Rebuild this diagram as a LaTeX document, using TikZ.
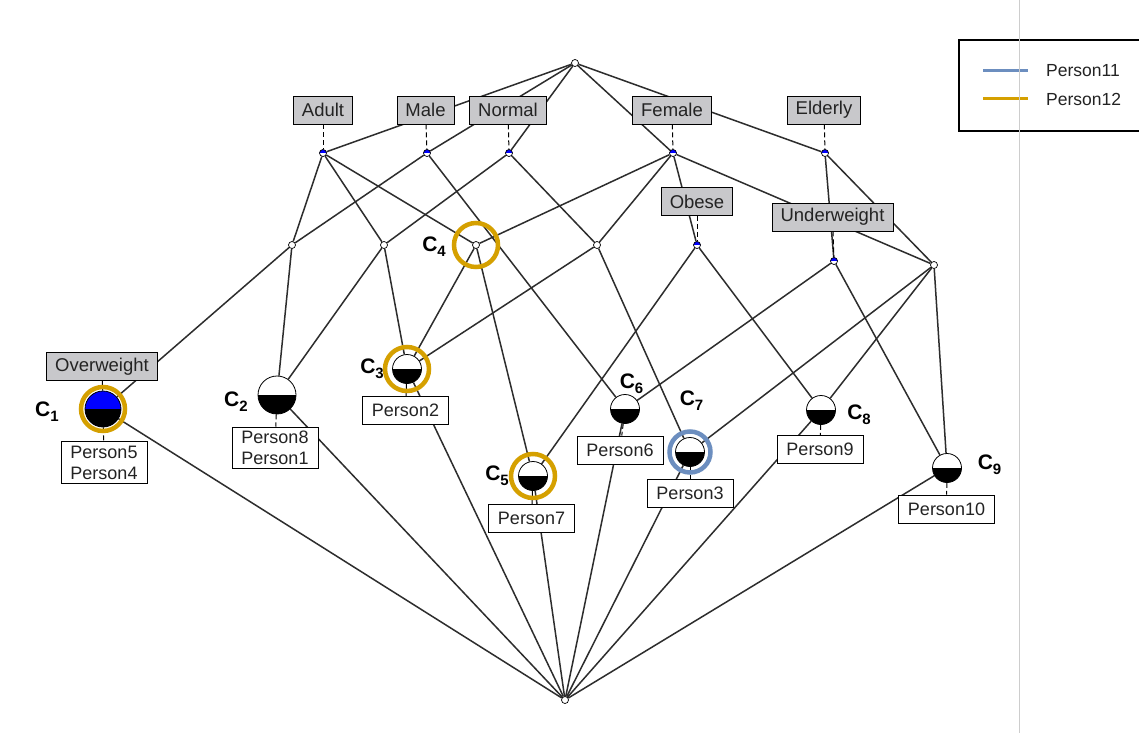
\documentclass[tikz,border=0pt]{standalone}
\usepackage{fontspec}
\setmainfont{Liberation Sans}
\pgfdeclarelayer{canvas}
\pgfdeclarelayer{edges}
\pgfsetlayers{canvas,edges,main}
\definecolor{ringorange}{RGB}{213,160,0}
\definecolor{ringblue}{RGB}{108,142,191}
\definecolor{lblgray}{RGB}{200,200,203}
\definecolor{edgegray}{RGB}{45,45,45}
\definecolor{txtgray}{RGB}{35,35,35}
\definecolor{sepgray}{RGB}{205,205,205}
\newcommand\csub[1]{\raisebox{-5pt}{\fontsize{15}{15}\selectfont #1}}
\tikzset{
  tiny/.style={circle,draw=black,fill=white,line width=0.7pt,minimum size=7pt,inner sep=0pt},
  attrdot/.style={tiny,fill=blue,path picture={\fill[white] (path picture bounding box.west) rectangle (path picture bounding box.south east);}},
  concept/.style={circle,draw=black,line width=0.8pt,fill=white,minimum size=#1,inner sep=0pt,
    path picture={\fill[black] (path picture bounding box.west) rectangle (path picture bounding box.south east);}},
  concept/.default=29pt,
  attrlbl/.style={draw=black,line width=0.8pt,fill=lblgray,text=txtgray,font=\fontsize{18.5}{20}\selectfont,inner xsep=8.5pt,inner ysep=2pt,minimum height=28pt},
  extbox/.style={draw=black,line width=0.8pt,fill=white,text=txtgray,font=\fontsize{18}{21}\selectfont,align=center,inner xsep=9.5pt,inner ysep=4pt,minimum height=28pt},
  clbl/.style={inner sep=0pt,font=\fontsize{21}{24}\selectfont\bfseries},
  edge/.style={draw=edgegray,line width=1.5pt},
  linkdash/.style={draw=black,line width=1pt,dash pattern=on 5pt off 3pt},
  halo/.style={draw=#1,line width=4.5pt},
}
\begin{document}
\begin{tikzpicture}[x=1pt,y=-1pt]
\useasboundingbox (0,0) rectangle (1139,733);
\begin{pgfonlayer}{canvas}
  \fill[white] (0,0) rectangle (1139,733);
\end{pgfonlayer}

% lattice vertices
\node[tiny] (top) at (575,63) {};
\node[tiny] (bot) at (565,700) {};
\node[attrdot] (adult) at (323,153) {};
\node[attrdot] (male) at (427,153) {};
\node[attrdot] (normal) at (509,153) {};
\node[attrdot] (female) at (673,153) {};
\node[attrdot] (elderly) at (825,153) {};
\node[tiny] (am) at (292,245) {};
\node[tiny] (an) at (384,245) {};
\node[tiny] (c4) at (476,245) {};
\node[tiny] (nf) at (597,245) {};
\node[attrdot] (obese) at (697,245) {};
\node[attrdot] (under) at (834,261) {};
\node[tiny] (fe) at (934,265) {};

% object concepts
\node[concept=36pt,fill=blue] (c1) at (103,409) {};
\node[concept=38pt] (c2) at (277,395) {};
\node[concept] (c3) at (407,369) {};
\node[concept] (c5) at (533,476) {};
\node[concept] (c6) at (625,409) {};
\node[concept] (c7) at (690,452) {};
\node[concept] (c8) at (821,410) {};
\node[concept] (c9) at (947,468) {};

% attribute labels
\node[attrlbl] (lAdult) at (323,110) {Adult};
\node[attrlbl] (lMale) at (425.5,110) {Male};
\node[attrlbl] (lNormal) at (508,110) {Normal};
\node[attrlbl] (lFemale) at (672,110) {Female};
\node[attrlbl] (lElderly) at (824,110) {Elderly};
\node[attrlbl] (lObese) at (697,201.5) {Obese};
\node[attrlbl] (lUnder) at (832.5,217) {Underweight};
\node[attrlbl] (lOver) at (102,366.5) {Overweight};

% extent labels
\node[extbox] (e1) at (104,462.5) {Person5\\Person4};
\node[extbox] (e2) at (275,448) {Person8\\Person1};
\node[extbox] (e3) at (405.5,410.5) {Person2};
\node[extbox] (e5) at (531.5,518.5) {Person7};
\node[extbox] (e6) at (620,450) {Person6};
\node[extbox] (e7) at (690,493) {Person3};
\node[extbox] (e8) at (820,449.5) {Person9};
\node[extbox] (e9) at (946.5,509) {Person10};

% concept names
\node[clbl] (k1) at (47,412) {C\csub{1}};
\node[clbl] (k2) at (236,402) {C\csub{2}};
\node[clbl] (k3) at (372,369) {C\csub{3}};
\node[clbl] (k4) at (434,246.5) {C\csub{4}};
\node[clbl] (k5) at (497,476) {C\csub{5}};
\node[clbl] (k6) at (631.5,384) {C\csub{6}};
\node[clbl] (k7) at (691.5,400.5) {C\csub{7}};
\node[clbl] (k8) at (859,415) {C\csub{8}};
\node[clbl] (k9) at (989.5,465) {C\csub{9}};

% label leaders
\foreach \a/\b in {lAdult/adult,lMale/male,lNormal/normal,lFemale/female,lElderly/elderly,lObese/obese,lUnder/under,lOver/c1,
                   c1/e1,c2/e2,c3/e3,c5/e5,c6/e6,c7/e7,c8/e8,c9/e9}
  \draw[linkdash] (\a) -- (\b);

% cover relation
\begin{pgfonlayer}{edges}
\foreach \a/\b in {top/adult,top/male,top/normal,top/female,top/elderly,
                   adult/am,adult/an,adult/c4,male/am,male/c6,
                   normal/an,normal/nf,female/c4,female/nf,female/obese,female/fe,
                   elderly/under,elderly/fe,
                   am/c1,am/c2,an/c2,an/c3,c4/c3,c4/c5,nf/c3,nf/c7,
                   obese/c5,obese/c8,under/c6,under/c9,fe/c7,fe/c8,fe/c9,
                   c1/bot,c2/bot,c3/bot,c5/bot,c6/bot,c7/bot,c8/bot,c9/bot}
  \draw[edge] (\a) -- (\b);
\end{pgfonlayer}

% highlighted concepts
\draw[halo=ringorange] (c1.center) circle (22pt);
\draw[halo=ringorange] (c3.center) circle (22pt);
\draw[halo=ringorange] (c4.center) circle (22pt);
\draw[halo=ringorange] (c5.center) circle (22pt);
\draw[halo=ringblue] (c7.center) circle (20.5pt);

% legend
\draw[black,line width=1.4pt] (959,40) rectangle (1150,131);
\coordinate (la1) at (983,71);
\coordinate (lb1) at (1028,71);
\coordinate (la2) at (983,99);
\coordinate (lb2) at (1028,99);
\draw[ringblue,line width=3pt] (la1) -- (lb1);
\draw[ringorange,line width=3pt] (la2) -- (lb2);
\node[anchor=west,inner sep=0pt,font=\fontsize{17.5}{20}\selectfont,text=txtgray] (t11) at (1046,71) {Person11};
\node[anchor=west,inner sep=0pt,font=\fontsize{17.5}{20}\selectfont,text=txtgray] (t12) at (1046,99) {Person12};

% panel separator
\coordinate (s1) at (1019,0);
\coordinate (s2) at (1019,733);
\draw[sepgray,line width=1pt] (s1) -- (s2);
\end{tikzpicture}
\end{document}
